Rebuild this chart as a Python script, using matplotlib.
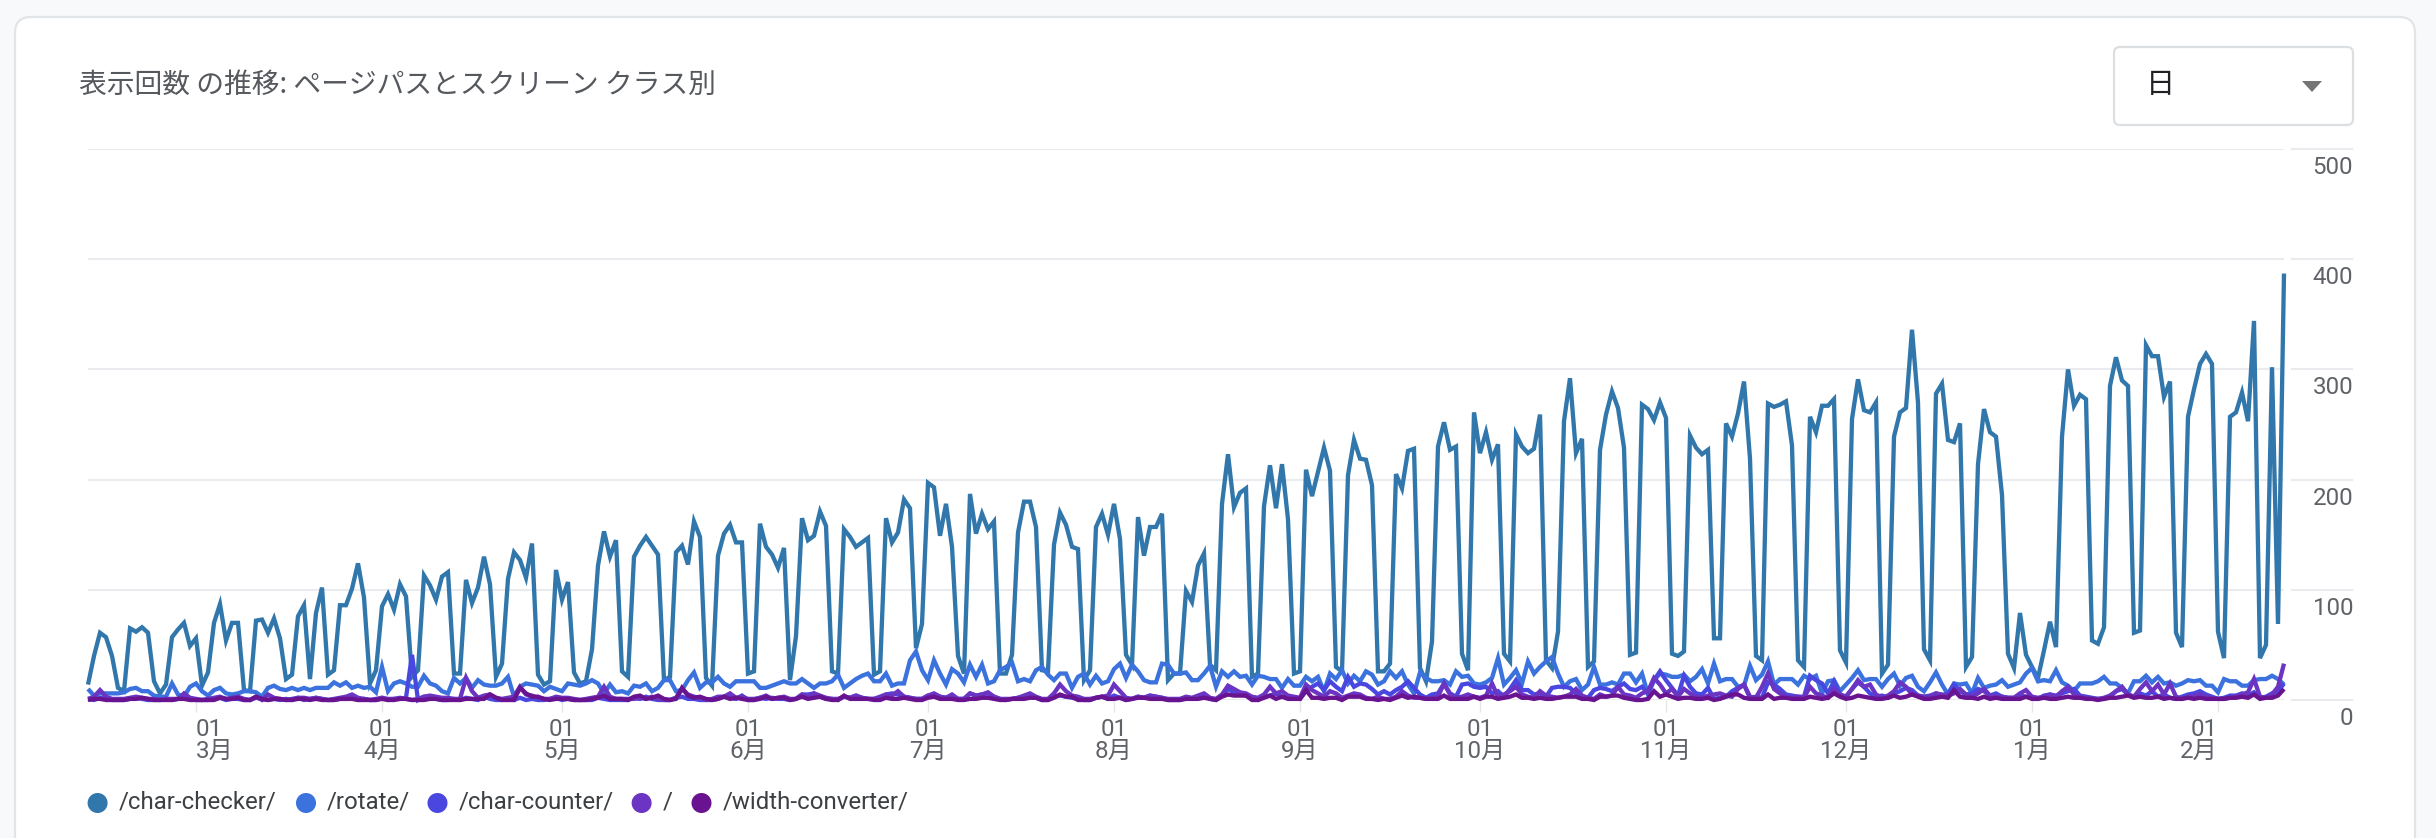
import pandas as pd
import matplotlib
matplotlib.use('Agg')
import matplotlib.pyplot as plt
from matplotlib.patches import FancyBboxPatch, Circle, Polygon
from matplotlib.transforms import ScaledTranslation

W, H = 2436, 838
UI_FONT = ['Roboto', 'Noto Sans CJK JP']
JP_FONT = ['Noto Sans CJK JP', 'Roboto']

title = '表示回数 の推移: ページパスとスクリーン クラス別'
period = '日'
start_date = '2024-02-12'
y_ticks = [0, 100, 200, 300, 400, 500]
x_tick_dates = ['2024-03-01', '2024-04-01', '2024-05-01', '2024-06-01', '2024-07-01', '2024-08-01',
                '2024-09-01', '2024-10-01', '2024-11-01', '2024-12-01', '2025-01-01', '2025-02-01']
x_tick_labels = ['01\n3月', '01\n4月', '01\n5月', '01\n6月', '01\n7月', '01\n8月',
                 '01\n9月', '01\n10月', '01\n11月', '01\n12月', '01\n1月', '01\n2月']
names = ['/char-checker/', '/rotate/', '/char-counter/', '/', '/width-converter/']
colors = ['#3277ab', '#3b72de', '#4a47e0', '#6b34c2', '#6a1390']

# one row per week, monday first
char_checker = [
    14, 40, 61, 57, 40, 11, 8,
    65, 62, 66, 61, 17, 6, 14,
    57, 64, 70, 49, 56, 13, 25,
    70, 87, 54, 70, 70, 9, 8,
    72, 73, 61, 74, 56, 19, 23,
    76, 86, 19, 79, 102, 23, 27,
    86, 86, 101, 124, 93, 15, 27,
    85, 96, 82, 105, 94, 21, 27,
    113, 104, 91, 112, 116, 24, 24,
    109, 88, 102, 130, 105, 21, 33,
    110, 134, 127, 111, 142, 23, 14,
    17, 118, 91, 107, 25, 15, 17,
    46, 122, 153, 130, 145, 26, 21,
    130, 140, 148, 140, 132, 18, 21,
    134, 140, 123, 162, 148, 20, 13,
    131, 151, 159, 143, 143, 24, 26,
    160, 139, 132, 120, 138, 18, 58,
    165, 145, 149, 171, 158, 26, 24,
    155, 148, 139, 143, 147, 23, 26,
    165, 143, 152, 182, 174, 47, 69,
    197, 193, 149, 178, 139, 40, 24,
    187, 151, 169, 155, 162, 24, 24,
    41, 152, 180, 180, 157, 27, 26,
    141, 170, 159, 139, 137, 18, 27,
    157, 169, 150, 178, 146, 41, 32,
    166, 131, 157, 157, 169, 18, 24,
    24, 99, 89, 122, 133, 32, 27,
    178, 223, 175, 188, 192, 21, 24,
    176, 213, 174, 214, 164, 24, 26,
    209, 185, 207, 229, 208, 30, 26,
    204, 236, 219, 218, 195, 26, 26,
    33, 205, 192, 226, 228, 29, 17,
    53, 230, 252, 227, 230, 42, 27,
    261, 224, 243, 218, 232, 42, 35,
    241, 230, 224, 228, 259, 36, 29,
    62, 253, 292, 224, 237, 30, 35,
    227, 259, 280, 265, 229, 41, 43,
    268, 264, 254, 270, 256, 42, 40,
    44, 240, 229, 223, 227, 56, 56,
    251, 239, 260, 289, 219, 40, 36,
    269, 266, 268, 271, 231, 36, 30,
    257, 243, 267, 267, 273, 45, 34,
    255, 291, 263, 261, 270, 24, 32,
    239, 261, 265, 336, 270, 46, 36,
    278, 287, 236, 234, 251, 30, 39,
    214, 264, 243, 239, 186, 42, 29,
    79, 41, 30, 20, 45, 71, 48,
    239, 300, 267, 277, 273, 54, 51,
    66, 285, 311, 290, 285, 61, 63,
    322, 312, 312, 275, 289, 61, 48,
    257, 282, 305, 314, 305, 62, 38,
    257, 261, 279, 253, 344, 38, 50,
    302, 69, 387,
]
rotate = [
    10, 4, 6, 6, 6, 6, 7,
    10, 11, 8, 8, 4, 3, 3,
    15, 5, 3, 12, 15, 8, 4,
    9, 11, 6, 5, 6, 8, 8,
    7, 3, 11, 13, 10, 9, 11,
    9, 11, 9, 11, 11, 11, 16,
    13, 16, 11, 13, 11, 12, 7,
    30, 8, 15, 17, 15, 12, 12,
    22, 15, 13, 8, 6, 20, 15,
    20, 11, 18, 14, 13, 13, 15,
    21, 3, 12, 15, 14, 13, 8,
    12, 10, 8, 15, 14, 13, 15,
    18, 15, 6, 14, 7, 8, 6,
    13, 12, 15, 8, 11, 18, 18,
    8, 9, 18, 25, 11, 16, 16,
    21, 15, 12, 17, 17, 17, 17,
    11, 11, 13, 15, 17, 15, 15,
    19, 15, 11, 15, 15, 17, 23,
    11, 15, 19, 22, 24, 17, 17,
    24, 13, 15, 15, 36, 44, 27,
    18, 36, 24, 14, 28, 24, 16,
    32, 21, 32, 15, 17, 27, 30,
    34, 17, 19, 17, 27, 30, 23,
    18, 24, 24, 11, 21, 24, 14,
    22, 15, 17, 28, 33, 20, 32,
    26, 18, 16, 16, 33, 32, 24,
    24, 25, 18, 18, 24, 31, 12,
    26, 21, 26, 21, 22, 14, 22,
    21, 19, 19, 11, 19, 13, 13,
    21, 17, 21, 8, 24, 19, 27,
    15, 22, 17, 26, 23, 14, 17,
    26, 20, 26, 14, 6, 25, 20,
    17, 17, 18, 14, 26, 21, 22,
    15, 14, 16, 20, 38, 14, 20,
    27, 15, 35, 24, 30, 35, 39,
    24, 12, 17, 19, 9, 14, 30,
    14, 14, 16, 14, 24, 24, 16,
    24, 5, 18, 24, 23, 21, 21,
    23, 17, 21, 28, 15, 33, 17,
    19, 19, 12, 13, 31, 18, 23,
    35, 14, 19, 19, 19, 14, 22,
    19, 22, 6, 17, 18, 8, 14,
    20, 27, 18, 19, 19, 12, 19,
    24, 13, 20, 22, 12, 8, 16,
    25, 14, 5, 15, 14, 15, 6,
    20, 11, 13, 14, 18, 12, 14,
    16, 24, 29, 17, 18, 17, 27,
    16, 13, 8, 15, 15, 15, 17,
    21, 15, 15, 11, 6, 17, 17,
    22, 16, 21, 15, 16, 13, 15,
    18, 17, 18, 13, 13, 7, 19,
    17, 17, 13, 13, 18, 19, 19,
    22, 19, 14,
]
char_counter = [
    1, 0, 2, 1, 0, 0, 0,
    1, 2, 1, 0, 0, 0, 1,
    0, 1, 3, 1, 0, 0, 0,
    1, 2, 0, 1, 1, 0, 0,
    2, 1, 0, 1, 0, 1, 0,
    2, 0, 1, 2, 1, 0, 0,
    1, 1, 2, 0, 1, 0, 0,
    2, 0, 1, 1, 2, 41, 0,
    3, 2, 1, 0, 0, 1, 0,
    2, 1, 0, 3, 1, 0, 0,
    1, 0, 2, 0, 1, 0, 0,
    1, 2, 0, 1, 0, 0, 0,
    0, 2, 1, 0, 0, 0, 0,
    2, 1, 3, 1, 0, 0, 0,
    2, 3, 1, 1, 0, 0, 0,
    1, 3, 2, 1, 4, 0, 0,
    2, 1, 2, 1, 1, 0, 1,
    5, 5, 6, 3, 1, 1, 0,
    3, 2, 4, 2, 1, 1, 2,
    5, 6, 5, 3, 2, 1, 1,
    4, 5, 3, 2, 3, 1, 1,
    6, 4, 5, 6, 3, 1, 0,
    1, 2, 2, 3, 2, 0, 0,
    3, 4, 3, 2, 1, 0, 0,
    2, 3, 1, 4, 2, 0, 1,
    3, 2, 4, 3, 2, 0, 0,
    0, 2, 1, 3, 4, 1, 0,
    4, 10, 7, 5, 4, 1, 0,
    3, 4, 6, 3, 3, 2, 1,
    8, 12, 15, 9, 17, 12, 8,
    21, 12, 15, 14, 10, 5, 8,
    5, 9, 12, 17, 11, 5, 2,
    5, 6, 15, 6, 3, 14, 15,
    12, 11, 12, 6, 8, 3, 10,
    18, 9, 9, 5, 6, 3, 11,
    12, 12, 11, 6, 3, 2, 9,
    11, 10, 8, 12, 15, 10, 9,
    12, 6, 18, 26, 18, 11, 4,
    22, 12, 6, 5, 11, 1, 2,
    3, 8, 11, 14, 2, 3, 2,
    16, 14, 10, 5, 4, 3, 3,
    22, 18, 15, 6, 17, 5, 3,
    10, 16, 12, 6, 3, 4, 2,
    6, 8, 11, 9, 4, 3, 4,
    6, 4, 6, 14, 8, 5, 6,
    10, 8, 4, 6, 3, 2, 2,
    4, 3, 2, 1, 4, 5, 4,
    6, 8, 10, 4, 3, 2, 1,
    1, 3, 8, 10, 5, 3, 6,
    4, 8, 3, 5, 2, 1, 3,
    5, 6, 8, 5, 3, 1, 2,
    4, 4, 6, 4, 7, 2, 3,
    6, 8, 15,
]
root = [
    1, 3, 9, 3, 1, 1, 1,
    2, 3, 2, 1, 1, 0, 1,
    1, 1, 6, 2, 1, 0, 1,
    2, 3, 1, 2, 3, 1, 0,
    3, 0, 5, 2, 1, 0, 1,
    2, 2, 1, 2, 1, 0, 1,
    2, 3, 5, 2, 1, 0, 1,
    2, 1, 1, 2, 1, 0, 1,
    3, 4, 3, 2, 2, 1, 1,
    20, 8, 2, 4, 5, 2, 1,
    2, 3, 12, 5, 4, 2, 1,
    1, 3, 2, 2, 1, 0, 1,
    2, 3, 12, 3, 1, 1, 1,
    1, 2, 1, 3, 1, 0, 0,
    2, 10, 5, 3, 2, 0, 1,
    3, 3, 6, 2, 3, 1, 1,
    2, 4, 1, 2, 3, 1, 1,
    5, 3, 6, 4, 2, 1, 1,
    3, 2, 4, 2, 1, 1, 3,
    5, 4, 8, 3, 2, 1, 1,
    4, 6, 3, 2, 5, 1, 1,
    6, 4, 5, 7, 3, 1, 1,
    1, 2, 4, 6, 3, 1, 1,
    6, 14, 8, 4, 3, 1, 1,
    2, 3, 4, 14, 8, 2, 1,
    3, 2, 4, 3, 2, 1, 1,
    1, 3, 2, 4, 6, 2, 1,
    5, 13, 10, 7, 6, 3, 2,
    5, 12, 6, 8, 4, 3, 2,
    14, 9, 6, 3, 8, 6, 2,
    4, 6, 5, 2, 1, 3, 1,
    1, 3, 8, 4, 2, 2, 1,
    2, 3, 15, 5, 2, 3, 5,
    3, 2, 4, 15, 3, 5, 8,
    12, 5, 3, 2, 8, 4, 3,
    2, 3, 5, 10, 4, 2, 1,
    5, 3, 4, 12, 5, 4, 2,
    6, 8, 20, 14, 6, 10, 3,
    10, 6, 3, 2, 4, 5, 6,
    4, 3, 10, 14, 3, 2, 12,
    24, 10, 6, 3, 2, 3, 2,
    12, 6, 4, 2, 10, 5, 3,
    10, 18, 12, 14, 5, 2, 4,
    8, 16, 12, 5, 4, 3, 3,
    6, 5, 4, 6, 10, 5, 3,
    6, 10, 4, 3, 3, 2, 2,
    6, 9, 3, 2, 3, 5, 3,
    8, 12, 5, 3, 2, 1, 1,
    2, 4, 8, 12, 5, 3, 10,
    16, 8, 14, 5, 15, 3, 1,
    3, 4, 5, 3, 2, 1, 1,
    2, 3, 5, 7, 19, 3, 2,
    5, 12, 33,
]
width_converter = [
    0, 1, 1, 0, 0, 0, 0,
    1, 1, 2, 1, 0, 0, 0,
    0, 1, 1, 0, 0, 0, 0,
    0, 2, 1, 1, 2, 0, 0,
    3, 1, 0, 1, 1, 0, 0,
    1, 1, 0, 1, 0, 0, 0,
    1, 1, 1, 0, 0, 0, 0,
    1, 0, 0, 1, 1, 0, 0,
    0, 1, 1, 0, 0, 0, 0,
    1, 1, 1, 1, 5, 2, 0,
    0, 0, 11, 6, 3, 3, 1,
    0, 1, 1, 1, 0, 0, 0,
    1, 2, 4, 1, 1, 1, 0,
    3, 4, 1, 2, 4, 1, 0,
    1, 11, 4, 2, 3, 1, 0,
    1, 3, 1, 2, 1, 0, 0,
    1, 3, 1, 2, 2, 0, 1,
    3, 1, 2, 3, 1, 0, 0,
    4, 1, 1, 1, 1, 0, 0,
    2, 1, 1, 2, 1, 0, 0,
    2, 3, 1, 1, 1, 0, 0,
    1, 1, 2, 2, 1, 0, 0,
    1, 1, 1, 2, 2, 0, 0,
    2, 5, 3, 3, 0, 0, 0,
    2, 3, 1, 1, 2, 0, 1,
    2, 2, 1, 1, 1, 0, 0,
    0, 1, 1, 1, 2, 1, 0,
    3, 5, 4, 4, 4, 0, 0,
    2, 4, 1, 3, 1, 1, 1,
    9, 2, 2, 1, 2, 2, 0,
    3, 3, 3, 1, 1, 0, 1,
    0, 2, 4, 2, 3, 2, 1,
    1, 1, 4, 1, 1, 1, 1,
    3, 1, 3, 3, 1, 2, 3,
    5, 2, 2, 1, 2, 1, 1,
    2, 3, 3, 3, 1, 1, 0,
    3, 3, 4, 4, 2, 1, 0,
    0, 1, 8, 3, 5, 3, 1,
    2, 2, 1, 1, 2, 0, 1,
    3, 5, 5, 2, 1, 1, 1,
    5, 1, 2, 2, 1, 1, 1,
    3, 2, 1, 2, 6, 3, 1,
    2, 4, 3, 2, 1, 1, 2,
    4, 2, 3, 5, 3, 1, 1,
    2, 3, 2, 9, 3, 2, 2,
    1, 3, 1, 2, 1, 1, 1,
    1, 3, 1, 1, 2, 1, 1,
    2, 3, 2, 2, 1, 1, 0,
    1, 2, 2, 3, 4, 2, 3,
    2, 2, 3, 1, 2, 1, 1,
    2, 1, 2, 1, 1, 1, 1,
    2, 2, 3, 2, 5, 1, 2,
    2, 4, 10,
]
series = [char_checker, rotate, char_counter, root, width_converter]
dates = pd.date_range(start_date, periods=len(char_checker))

fig = plt.figure(figsize=(W / 100, H / 100), dpi=100, facecolor='#f8f9fb')

# page furniture in pixel coordinates
bg = fig.add_axes([0, 0, 1, 1], zorder=0)
bg.set_xlim(0, W)
bg.set_ylim(H, 0)
bg.axis('off')
bg.add_patch(FancyBboxPatch((15, 17), 2400, 900, boxstyle='round,pad=0,rounding_size=16',
                            fc='white', ec='#e2e5e8', lw=1.6))
bg.text(79, 85, title, family=JP_FONT, fontsize=20, color='#55595e', va='center', ha='left')
bg.add_patch(FancyBboxPatch((2114, 47), 239, 78, boxstyle='round,pad=0,rounding_size=6',
                            fc='white', ec='#dcdfe2', lw=1.6))
bg.text(2160, 85, period, family=JP_FONT, fontsize=21, color='#202124', va='center', ha='center')
bg.add_patch(Polygon([(2302, 81), (2322, 81), (2312, 92)], fc='#757575', ec='none'))

legend_dots = [97.6, 306, 437.5, 641.6, 701.5]
legend_text = [118.6, 326.5, 458.5, 663, 722.6]
for name, color, dot_x, text_x in zip(names, colors, legend_dots, legend_text):
    bg.add_patch(Circle((dot_x, 803), 10, fc=color, ec='none'))
    bg.text(text_x, 802, name, family=UI_FONT, fontsize=17.3, color='#3c4043', va='center', ha='left')

ax = fig.add_axes([88 / W, 1 - 700 / H, 2196 / W, 551 / H], zorder=1)
ax.patch.set_alpha(0)
for name, values, color in zip(names, series, colors):
    ax.plot(dates, values, color=color, lw=3.1, solid_joinstyle='miter', solid_capstyle='butt',
            clip_on=False, label=name)

ax.set_xlim(dates[0], dates[-1])
ax.set_ylim(0, 500)
for side in ax.spines.values():
    side.set_visible(False)
ax.set_axisbelow(True)
ax.grid(axis='y', color='#e9ebee', lw=1.5)
ax.grid(axis='x', visible=False)

# short stubs of the grid above the value labels
for y in y_ticks:
    ax.plot([1.0036, 1.031], [y, y], color='#e9ebee', lw=1.5, clip_on=False,
            transform=ax.get_yaxis_transform(), zorder=0)

ax.set_yticks(y_ticks)
ax.yaxis.tick_right()
ax.tick_params(axis='y', length=0, pad=49.7, labelsize=17.4, labelcolor='#5f6368')
for label in ax.get_yticklabels():
    label.set_family(UI_FONT)
    label.set_ha('right')
    label.set_transform(label.get_transform() + ScaledTranslation(0, -16 / 100, fig.dpi_scale_trans))

ax.set_xticks(pd.to_datetime(x_tick_dates))
ax.set_xticklabels(x_tick_labels, family=UI_FONT, linespacing=0.92)
ax.tick_params(axis='x', length=8.5, width=1, color='#e4e6e8', pad=4.5, labelsize=17.4, labelcolor='#5f6368')
labels = ax.get_xticklabels()
labels[0].set_ha('left')
labels[-1].set_ha('right')

fig.savefig('out.png', dpi=100, facecolor=fig.get_facecolor())
